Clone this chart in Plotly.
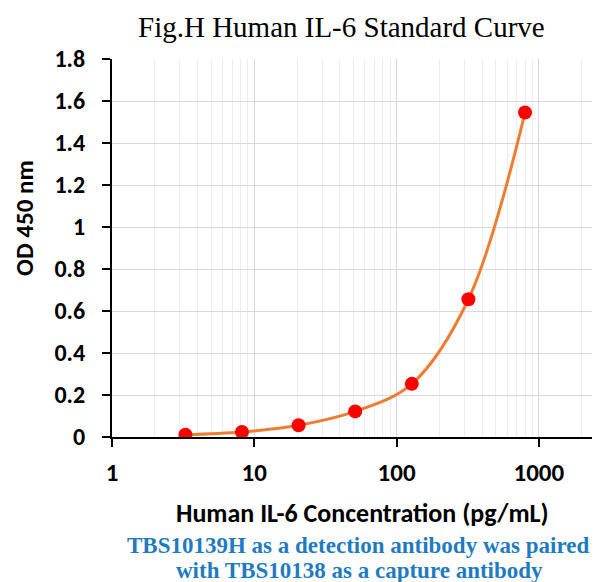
import plotly.graph_objects as go

conc = [3.28, 8.19, 20.48, 51.2, 128, 320, 800]
od = [0.011, 0.024, 0.056, 0.122, 0.253, 0.656, 1.545]
x_ticks = [1, 10, 100, 1000]
y_ticks = [0, 0.2, 0.4, 0.6, 0.8, 1, 1.2, 1.4, 1.6, 1.8]

SANS = "Calibri, Carlito, Lato, sans-serif"
SERIF = "Liberation Serif, Times New Roman, serif"

fig = go.Figure()
fig.add_trace(go.Scatter(x=conc, y=od, mode="lines",
                         line=dict(color="#ED7D31", width=3, shape="spline", smoothing=1.0),
                         hoverinfo="skip", showlegend=False))
fig.add_trace(go.Scatter(x=conc, y=od, mode="markers", marker=dict(color="#FF0000", size=14),
                         showlegend=False))

# page body has an 8px margin: figure is sized/offset to compensate
fig.update_layout(
    width=592, height=574,
    margin=dict(l=104, r=0, t=51, b=145),
    paper_bgcolor="white", plot_bgcolor="white",
    xaxis=dict(type="log", range=[0, 3.43], tickvals=x_ticks, ticktext=[str(v) for v in x_ticks],
               showgrid=True, gridcolor="#D9D9D9", gridwidth=1,
               minor=dict(dtick="D1", showgrid=True, gridcolor="#EDEDED", gridwidth=1, ticks=""),
               showline=True, linecolor="#000000", linewidth=2,
               ticks="outside", ticklen=8, tickwidth=2, tickcolor="#000000",
               ticklabelstandoff=4, tickfont=dict(family=SANS, size=25, color="#000000", weight="bold"),
               zeroline=False),
    yaxis=dict(range=[0, 1.8], tickvals=y_ticks, ticktext=[f"{v:g}" for v in y_ticks],
               showgrid=True, gridcolor="#D9D9D9", gridwidth=1,
               showline=True, linecolor="#000000", linewidth=2,
               ticks="outside", ticklen=8, tickwidth=1.5, tickcolor="#000000",
               ticklabelstandoff=12, tickfont=dict(family=SANS, size=24, color="#000000", weight="bold"),
               zeroline=False),
)

def ann(text, px, py, font, angle=0):
    fig.add_annotation(text=text, x=(px - 112) / 488, y=(437 - py) / 378,
                       xref="paper", yref="paper", showarrow=False, textangle=angle,
                       xanchor="center", yanchor="middle", font=font)

ann("Fig.H Human IL-6 Standard Curve", 341, 27, dict(family=SERIF, size=29, color="#000000"))
ann("<b>OD 450 nm</b>", 25, 218, dict(family=SANS, size=25, color="#000000"), angle=-90)
ann("<b>Human IL-6 Concentration (pg/mL)</b>", 362, 513, dict(family=SANS, size=26, color="#000000"))
ann("<b>TBS10139H as a detection antibody was paired</b>", 358, 545, dict(family=SERIF, size=23, color="#1F7BC1"))
ann("<b>with TBS10138 as a capture antibody</b>", 359, 570, dict(family=SERIF, size=23, color="#1F7BC1"))

fig.write_html("out.html")
